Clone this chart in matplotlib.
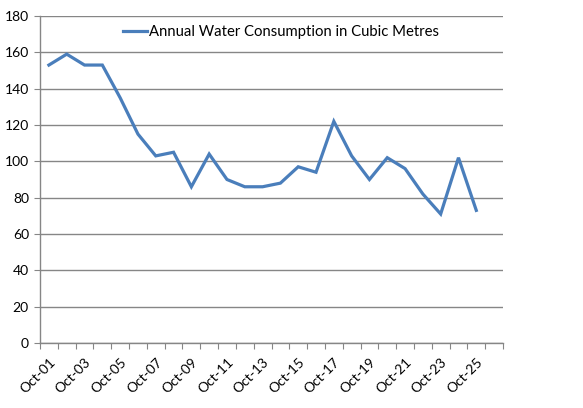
import matplotlib
matplotlib.use("Agg")
import matplotlib.pyplot as plt
import numpy as np

labels = ["Oct-%02d" % y for y in range(1, 26)]
values = [153, 159, 153, 153, 135, 115, 103, 105, 86, 104, 90, 86, 86, 88,
          97, 94, 122, 103, 90, 102, 96, 82, 71, 102, 73]
n_categories = 26
series_name = "Annual Water Consumption in Cubic Metres"

plt.rcParams['font.family'] = ['Lato', 'DejaVu Sans']

fig = plt.figure(figsize=(5.83, 4.08), dpi=100)
ax = fig.add_axes([40/583, (408-343)/408, 463/583, 327/408])

x = np.arange(len(values)) + 0.5
ax.plot(x, values, color='#4A7EBB', lw=2.3, label=series_name, solid_joinstyle='miter')

ax.set_xlim(0, n_categories)
ax.set_ylim(0, 180)
ax.set_yticks(np.arange(0, 181, 20))
ax.yaxis.grid(True, color='#868686', lw=1)
ax.set_axisbelow(True)

ax.set_xticks(np.arange(0, n_categories + 1))
ax.set_xticklabels([])
ax.set_xticks(x[::2], minor=True)
ax.set_xticklabels(labels[::2], minor=True, rotation=45, ha='right',
                   rotation_mode='anchor', fontsize=10)
ax.tick_params(axis='x', which='minor', length=0, pad=9)
ax.tick_params(axis='x', which='major', length=4, color='#868686', direction='out')
ax.tick_params(axis='y', length=4, color='#868686', labelsize=10, pad=4)

for s in ['top', 'right']:
    ax.spines[s].set_visible(False)
for s in ['left', 'bottom']:
    ax.spines[s].set_color('#868686')
    ax.spines[s].set_linewidth(1)

ax.legend(loc='center', bbox_to_anchor=(0.52, 0.951), frameon=False,
          fontsize=10.7, handlelength=1.6, handletextpad=0.15)

fig.savefig("out.png", dpi=100)
